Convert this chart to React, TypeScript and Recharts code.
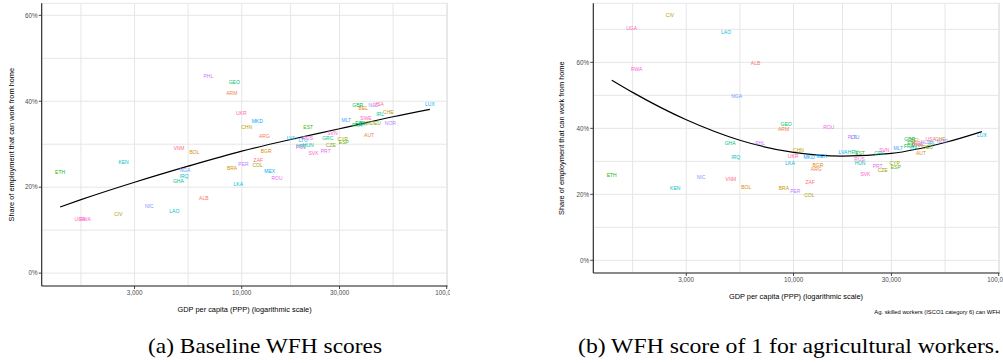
import React from 'react';
import { ComposedChart, Scatter, Line, XAxis, YAxis, CartesianGrid } from 'recharts';

// ---------- data ----------
const countries = [
  'ALB', 'ARG', 'ARM', 'AUT', 'BEL', 'BGR', 'BOL', 'BRA', 'CHE', 'CHN',
  'CIV', 'COL', 'CYP', 'CZE', 'DEU', 'DNK', 'ESP', 'EST', 'ETH', 'FIN',
  'FRA', 'GBR', 'GEO', 'GHA', 'GRC', 'HRV', 'HUN', 'IRL', 'IRQ', 'ITA',
  'KEN', 'LAO', 'LKA', 'LTU', 'LUX', 'LVA', 'MEX', 'MKD', 'MLT', 'NGA',
  'NIC', 'NLD', 'NOR', 'PER', 'PHL', 'POL', 'PRT', 'ROU', 'RUS', 'RWA',
  'SVK', 'SVN', 'SWE', 'UGA', 'UKR', 'USA', 'VNM', 'ZAF',
];
const gdpPerCapita = [
  6530, 12900, 8940, 41800, 39200, 13150, 5880, 8970, 51900, 10570,
  2500, 11950, 31100, 27200, 45000, 40000, 31500, 21100, 1300, 37500,
  36500, 36800, 9200, 4910, 26300, 19500, 21100, 47300, 5230, 38500,
  2650, 4690, 9620, 19900, 82800, 17400, 13700, 11900, 32400, 5280,
  3540, 44000, 53100, 10200, 6870, 19450, 25700, 14860, 21000, 1720,
  22400, 27700, 40400, 1625, 9950, 46600, 4940, 12050,
];
const wfhBaseline = [
  0.175, 0.319, 0.419, 0.322, 0.384, 0.284, 0.282, 0.245, 0.375, 0.340,
  0.136, 0.252, 0.312, 0.298, 0.348, 0.349, 0.304, 0.339, 0.235, 0.350,
  0.345, 0.391, 0.445, 0.215, 0.315, 0.296, 0.297, 0.370, 0.225, 0.347,
  0.258, 0.145, 0.208, 0.310, 0.394, 0.315, 0.238, 0.354, 0.357, 0.239,
  0.1565, 0.391, 0.350, 0.254, 0.459, 0.292, 0.284, 0.222, 0.314, 0.126,
  0.280, 0.326, 0.360, 0.126, 0.373, 0.394, 0.291, 0.263,
];
const wfhAgriculture = [
  0.598, 0.276, 0.398, 0.325, 0.363, 0.289, 0.222, 0.219, 0.368, 0.333,
  0.743, 0.197, 0.294, 0.274, 0.343, 0.350, 0.281, 0.325, 0.258, 0.356,
  0.347, 0.368, 0.413, 0.355, 0.326, 0.328, 0.294, 0.354, 0.311, 0.339,
  0.219, 0.691, 0.294, 0.374, 0.380, 0.328, 0.317, 0.311, 0.341, 0.497,
  0.252, 0.358, 0.361, 0.209, 0.355, 0.374, 0.284, 0.402, 0.306, 0.580,
  0.262, 0.334, 0.352, 0.704, 0.317, 0.368, 0.245, 0.237,
];

// fitted curves
const fitGdp = [1300, 1643, 3000, 5477, 10000, 17321, 30000, 54772, 82800];
const fitBaselineShare = [0.154, 0.171, 0.2115, 0.249, 0.284, 0.311, 0.336, 0.364, 0.381];
const fitAgricultureShare = [0.546, 0.509, 0.426, 0.364, 0.327, 0.316, 0.324, 0.357, 0.390];

// axis ticks (majors get labels, the others are minor grid lines)
const xTicks = [1643, 3000, 5477, 10000, 17321, 30000, 54772, 100000];
const xMajor = [3000, 10000, 30000, 100000];
const yTicksA = [0, 0.1, 0.2, 0.3, 0.4, 0.5, 0.6];
const yTicksB = [0, 0.1, 0.2, 0.3, 0.4, 0.5, 0.6, 0.7];
const yMajor = [0, 0.2, 0.4, 0.6];

// ---------- colours: ggplot2 hue palette ----------
function hclToHex(h: number, c = 100, l = 65): string {
  const hr = (h * Math.PI) / 180;
  const U = c * Math.cos(hr);
  const V = c * Math.sin(hr);
  const Xn = 0.95047, Yn = 1.0, Zn = 1.08883;
  const Y = l > 8 ? Math.pow((l + 16) / 116, 3) : l / 903.3;
  const den = Xn + 15 * Yn + 3 * Zn;
  const un = (4 * Xn) / den, vn = (9 * Yn) / den;
  const u = U / (13 * l) + un;
  const v = V / (13 * l) + vn;
  const X = (9 * Y * u) / (4 * v);
  const Z = -X / 3 - 5 * Y + (3 * Y) / v;
  const lin = [
    3.240479 * X - 1.53715 * Y - 0.498535 * Z,
    -0.969256 * X + 1.875992 * Y + 0.041556 * Z,
    0.055648 * X - 0.204043 * Y + 1.057311 * Z,
  ];
  const g = lin.map((t) => {
    const s = t <= 0.0031308 ? 12.92 * t : 1.055 * Math.pow(t, 1 / 2.4) - 0.055;
    const k = Math.round(Math.max(0, Math.min(1, s)) * 255);
    return k.toString(16).padStart(2, '0');
  });
  return '#' + g.join('');
}
const colorOf: Record<string, string> = {};
countries.forEach((c, i) => {
  colorOf[c] = hclToHex(15 + (360 * i) / countries.length);
});

const baseData = countries.map((c, i) => ({ code: c, gdp: gdpPerCapita[i], share: wfhBaseline[i] }));
const agData = countries.map((c, i) => ({ code: c, gdp: gdpPerCapita[i], share: wfhAgriculture[i] }));
const fitBaseData = fitGdp.map((g, i) => ({ gdp: g, share: fitBaselineShare[i] }));
const fitAgData = fitGdp.map((g, i) => ({ gdp: g, share: fitAgricultureShare[i] }));

// ---------- styling ----------
const SANS = '"Liberation Sans", Arial, Helvetica, sans-serif';
const SERIF = '"Liberation Serif", "Times New Roman", serif';
const TICK_SIZE = 3;
const TICK_MARGIN = 1.2;
const TICK_FONT = 6.3;
const X_DOMAIN: [number, number] = [1057, 100900];

const XTick = (props: any) => {
  const { x, y, payload } = props;
  if (!xMajor.includes(payload.value)) return <g />;
  return (
    <g>
      <line x1={x} x2={x} y1={y - TICK_MARGIN - TICK_SIZE} y2={y - TICK_MARGIN} stroke="#333" strokeWidth={0.9} />
      <text x={x} y={y} dy="0.75em" textAnchor="middle" fontSize={TICK_FONT} fill="#4D4D4D" fontFamily={SANS}>
        {Number(payload.value).toLocaleString('en-US')}
      </text>
    </g>
  );
};

const YTick = (props: any) => {
  const { x, y, payload } = props;
  const v = Math.round(payload.value * 100) / 100;
  if (!yMajor.includes(v)) return <g />;
  return (
    <g>
      <line x1={x + TICK_MARGIN} x2={x + TICK_MARGIN + TICK_SIZE} y1={y} y2={y} stroke="#333" strokeWidth={0.9} />
      <text x={x} y={y} dy="0.36em" textAnchor="end" fontSize={TICK_FONT} fill="#4D4D4D" fontFamily={SANS}>
        {Math.round(v * 100) + '%'}
      </text>
    </g>
  );
};

const CountryLabel = (props: any) => {
  const { cx, cy, payload } = props;
  if (cx == null || cy == null) return <g />;
  return (
    <text x={cx} y={cy} dy="0.36em" textAnchor="middle" fontSize={5} fontFamily={SANS} fill={colorOf[payload.code]}>
      {payload.code}
    </text>
  );
};

type WrapProps = {
  points: any[];
  fit: any[];
  yTicks: number[];
  yDomain: [number, number];
  plotTop: number;
  plotBottom: number;
  yAxisWidth: number;
  plotRight: number;
};

function Panel({ points, fit, yTicks, yDomain, plotTop, plotBottom, yAxisWidth, plotRight }: WrapProps) {
  const W = 480;
  const H = 300;
  const xAxisH = H - plotBottom;
  return (
    <ComposedChart width={W} height={H} margin={{ top: plotTop, right: W - plotRight, bottom: 0, left: 0 }}>
      <CartesianGrid stroke="#E6E6E6" strokeWidth={1} />
      <XAxis
        dataKey="gdp"
        type="number"
        scale="log"
        domain={X_DOMAIN}
        allowDataOverflow
        ticks={xTicks}
        tick={<XTick />}
        tickLine={false}
        tickSize={TICK_SIZE}
        tickMargin={TICK_MARGIN}
        axisLine={{ stroke: '#222', strokeWidth: 1.1 }}
        height={xAxisH}
        interval={0}
      />
      <YAxis
        dataKey="share"
        type="number"
        domain={yDomain}
        allowDataOverflow
        ticks={yTicks}
        tick={<YTick />}
        tickLine={false}
        tickSize={TICK_SIZE}
        tickMargin={TICK_MARGIN}
        axisLine={{ stroke: '#222', strokeWidth: 1.1 }}
        width={yAxisWidth}
        interval={0}
      />
      <Scatter data={points} dataKey="share" shape={<CountryLabel />} isAnimationActive={false} />
      <Line data={fit} dataKey="share" type="monotone" stroke="#000" strokeWidth={1.2} dot={false} isAnimationActive={false} />
    </ComposedChart>
  );
}

const AXIS_TITLE = 'GDP per capita (PPP) (logarithmic scale)';
const Y_TITLE = 'Share of employment that can work from home';

export default function App() {
  return (
    <div style={{ position: 'absolute', left: 0, top: 0, width: 1003, height: 363, background: '#fff', overflow: 'hidden' }}>
      {/* panel a */}
      <div style={{ position: 'absolute', left: 0, top: 0, width: 450, height: 300, overflow: 'hidden' }}>
        <Panel
          points={baseData}
          fit={fitBaseData}
          yTicks={yTicksA}
          yDomain={[-0.03, 0.628]}
          plotTop={3.3}
          plotBottom={286}
          yAxisWidth={41.7}
          plotRight={447.5}
        />
      </div>
      {/* panel b */}
      <div style={{ position: 'absolute', left: 552, top: 0, width: 451, height: 300, overflow: 'hidden' }}>
        <Panel
          points={agData}
          fit={fitAgData}
          yTicks={yTicksB}
          yDomain={[-0.0385, 0.779]}
          plotTop={3.3}
          plotBottom={273}
          yAxisWidth={41.3}
          plotRight={999.5 - 552}
        />
      </div>
      <svg width={1003} height={363} style={{ position: 'absolute', left: 0, top: 0, pointerEvents: 'none' }}>
        <text x={244.6} y={312} textAnchor="middle" fontSize={7.4} fontFamily={SANS} fill="#000">{AXIS_TITLE}</text>
        <text x={796} y={299.3} textAnchor="middle" fontSize={7.4} fontFamily={SANS} fill="#000">{AXIS_TITLE}</text>
        <text x={1000} y={313.5} textAnchor="end" fontSize={5.8} fontFamily={SANS} fill="#000">
          Ag. skilled workers (ISCO1 category 6) can WFH
        </text>
        <text transform="translate(13.5,144.7) rotate(-90)" textAnchor="middle" fontSize={7.4} fontFamily={SANS} fill="#000">{Y_TITLE}</text>
        <text transform="translate(564.2,138.2) rotate(-90)" textAnchor="middle" fontSize={7.4} fontFamily={SANS} fill="#000">{Y_TITLE}</text>
        <text x={148} y={353} textLength={234} lengthAdjust="spacingAndGlyphs" fontSize={21} fontFamily={SERIF} fill="#000">
          (a) Baseline WFH scores
        </text>
        <text x={578} y={353} textLength={422} lengthAdjust="spacingAndGlyphs" fontSize={21} fontFamily={SERIF} fill="#000">
          (b) WFH score of 1 for agricultural workers.
        </text>
      </svg>
    </div>
  );
}
